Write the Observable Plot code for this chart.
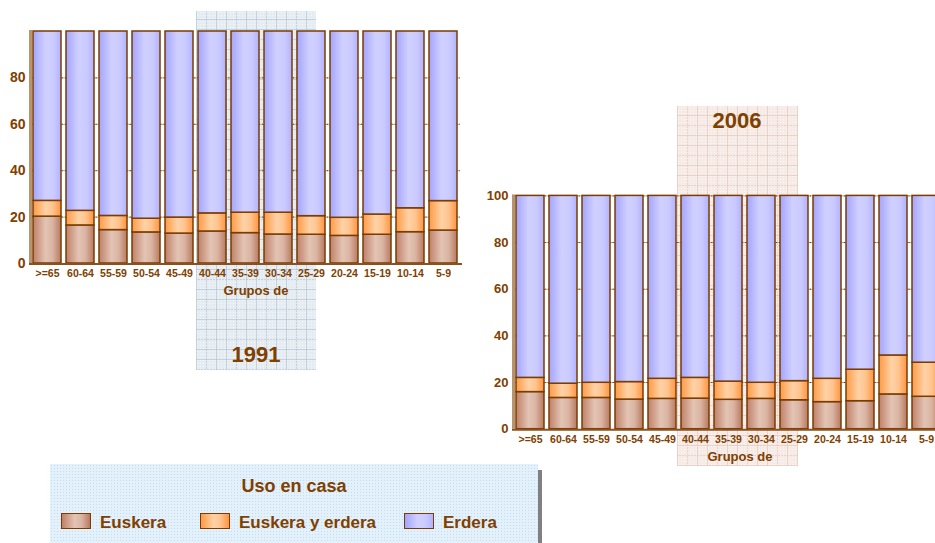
<!DOCTYPE html>
<html><head><meta charset="utf-8">
<script src="https://cdn.jsdelivr.net/npm/d3@7"></script>
<script src="https://cdn.jsdelivr.net/npm/@observablehq/plot@0.6"></script>
<style>
body{margin:0;background:#fff;font-family:"Liberation Sans",Arial,sans-serif;}
#wrap{position:relative;width:935px;height:543px;overflow:hidden;background:#fff;}
.abs{position:absolute;}
.lbl{position:absolute;transform:translate(-50%,-50%);font-weight:bold;color:#7f4000;white-space:nowrap;line-height:1;}
.shade-blue{background-color:#e6edf2;
 background-image:
  radial-gradient(rgba(255,255,255,.55) 0.7px, transparent 0.9px),
  repeating-linear-gradient(0deg, rgba(170,188,205,.55) 0 1px, transparent 1px 10px),
  repeating-linear-gradient(90deg, rgba(170,188,205,.55) 0 1px, transparent 1px 10px);
 background-size:3px 3px, auto, auto;}
.shade-pink{background-color:#f6ebe6;
 background-image:
  radial-gradient(rgba(255,255,255,.55) 0.7px, transparent 0.9px),
  repeating-linear-gradient(0deg, rgba(225,195,182,.6) 0 1px, transparent 1px 10px),
  repeating-linear-gradient(90deg, rgba(225,195,182,.6) 0 1px, transparent 1px 10px);
 background-size:3px 3px, auto, auto;}
.legend{background-color:#e2f1fb;
 background-image:radial-gradient(rgba(190,210,225,.7) 0.7px, transparent 0.9px);
 background-size:3px 3px;}
.sw{position:absolute;width:30px;height:16px;border:1px solid #7a3c00;box-sizing:border-box;}
.lt{position:absolute;font-weight:bold;color:#7f4000;font-size:17px;line-height:1;transform:translateY(-50%);white-space:nowrap;}
</style>
</head><body>
<div id="wrap">
  <svg width="0" height="0" style="position:absolute">
    <defs>
      <linearGradient id="gEusk" x1="0" x2="1" y1="0" y2="0">
        <stop offset="0" stop-color="#bf8068"/>
        <stop offset="0.45" stop-color="#e3c4b4"/>
        <stop offset="0.7" stop-color="#dab4a2"/>
        <stop offset="1" stop-color="#b87a60"/>
      </linearGradient>
      <linearGradient id="gMix" x1="0" x2="1" y1="0" y2="0">
        <stop offset="0" stop-color="#ff9a45"/>
        <stop offset="0.45" stop-color="#ffd2a6"/>
        <stop offset="0.7" stop-color="#ffc48e"/>
        <stop offset="1" stop-color="#ff9440"/>
      </linearGradient>
      <linearGradient id="gErd" x1="0" x2="1" y1="0" y2="0">
        <stop offset="0" stop-color="#a4a4fd"/>
        <stop offset="0.45" stop-color="#d0d0ff"/>
        <stop offset="0.75" stop-color="#cacaff"/>
        <stop offset="1" stop-color="#b2b2ff"/>
      </linearGradient>
    </defs>
  </svg>
  <div class="abs shade-blue" style="left:196px;top:11px;width:120px;height:359px;"></div>
  <div class="abs shade-pink" style="left:677px;top:106px;width:121px;height:360px;"></div>
  <div id="chart1991" class="abs" style="left:0;top:0;width:470px;height:280px;"></div>
  <div id="chart2006" class="abs" style="left:470px;top:180px;width:490px;height:280px;"></div>
  <div class="lbl" style="left:256px;top:290px;font-size:13px;">Grupos de</div>
  <div class="lbl" style="left:256px;top:355px;font-size:22px;">1991</div>
  <div class="lbl" style="left:740px;top:456px;font-size:13px;">Grupos de</div>
  <div class="lbl" style="left:737px;top:121px;font-size:22px;">2006</div>
  <div class="abs" style="left:538px;top:470px;width:4px;height:80px;background:#808080;"></div>
  <div id="legend" class="abs legend" style="left:50px;top:464px;width:488px;height:90px;"></div>
</div>
<script>
const groups = [">=65","60-64","55-59","50-54","45-49","40-44","35-39","30-34","25-29","20-24","15-19","10-14","5-9"];
const categories = ["Euskera","Euskera y erdera","Erdera"];

const euskera1991 = [20.2,16.4,14.4,13.4,12.9,13.8,13.1,12.5,12.4,11.9,12.4,13.5,14.2];
const mixto1991   = [6.8,6.3,6.1,5.9,6.9,7.8,8.8,9.4,8.0,7.8,8.7,10.3,12.7];
const erdera1991  = [73.0,77.3,79.5,80.7,80.2,78.4,78.1,78.1,79.6,80.3,78.9,76.2,73.1];

const euskera2006 = [15.9,13.4,13.4,12.7,13.0,13.1,12.6,13.0,12.4,11.6,12.0,14.9,13.9];
const mixto2006   = [6.1,6.1,6.5,7.5,8.6,8.9,7.8,6.9,8.2,10.0,13.5,16.7,14.6];
const erdera2006  = [78.0,80.5,80.1,79.8,78.4,78.0,79.6,80.1,79.4,78.4,74.5,68.4,71.5];

const ticks1991 = [0,20,40,60,80];
const ticks2006 = [0,20,40,60,80,100];

const fills = ["url(#gEusk)","url(#gMix)","url(#gErd)"];
const textColor = "#7f4000";
const strokeColor = "#7a3c00";

function rows(e, m, r) {
  return groups.flatMap((g, i) => [
    {group: g, cat: categories[0], value: e[i]},
    {group: g, cat: categories[1], value: m[i]},
    {group: g, cat: categories[2], value: r[i]}
  ]);
}

function axisLines(index, scales, values, dims) {
  const {width, height, marginLeft, marginRight, marginTop, marginBottom} = dims;
  const g = d3.create("svg:g");
  g.append("line").attr("x1", marginLeft - 0.5).attr("x2", marginLeft - 0.5)
    .attr("y1", marginTop - 1).attr("y2", height - marginBottom)
    .attr("stroke", "#b8946c").attr("stroke-width", 3);
  g.append("line").attr("x1", marginLeft - 2).attr("x2", width - marginRight + 2)
    .attr("y1", height - marginBottom + 1).attr("y2", height - marginBottom + 1)
    .attr("stroke", "#8a5020").attr("stroke-width", 2);
  return g.node();
}

function makeChart({data, ticks, gridTicks, width, height, marginLeft, marginRight, marginTop, marginBottom, yFont}) {
  return Plot.plot({
    width, height, marginLeft, marginRight, marginTop, marginBottom,
    style: {background: "none", fontFamily: "'Liberation Sans', Arial, sans-serif", overflow: "visible", maxWidth: "none"},
    x: {domain: groups, paddingInner: 0.15, paddingOuter: 0.075},
    y: {domain: [0, 100]},
    color: {domain: categories, range: fills},
    marks: [
      Plot.ruleY(gridTicks, {stroke: "#c8aa88", strokeWidth: 1}),
      Plot.ruleY(gridTicks, {stroke: strokeColor, strokeDasharray: "1.2,2.2", strokeWidth: 1}),
      Plot.barY(data, {x: "group", y: "value", fill: "cat", stroke: strokeColor, strokeWidth: 1.5}),
      axisLines,
      Plot.axisX({tickSize: 0, tickPadding: 6, fontSize: 10.5, fontWeight: "bold", fill: textColor, label: null}),
      Plot.axisY({ticks, tickSize: 0, tickPadding: 6, fontSize: yFont, fontWeight: "bold", fill: textColor, label: null})
    ]
  });
}

document.getElementById("chart1991").append(makeChart({
  data: rows(euskera1991, mixto1991, erdera1991),
  ticks: ticks1991, gridTicks: ticks1991.filter(t => t > 0),
  width: 470, height: 280, marginLeft: 31, marginRight: 10, marginTop: 31, marginBottom: 17, yFont: 14
}));

document.getElementById("chart2006").append(makeChart({
  data: rows(euskera2006, mixto2006, erdera2006),
  ticks: ticks2006, gridTicks: ticks2006.filter(t => t > 0),
  width: 490, height: 280, marginLeft: 44, marginRight: 17, marginTop: 15.4, marginBottom: 31.3, yFont: 13
}));

// legend
const legend = document.getElementById("legend");
const title = document.createElement("div");
title.className = "lbl";
title.style.cssText = "left:244px;top:22px;font-size:18px;";
title.textContent = "Uso en casa";
legend.append(title);
const swatchX = [11, 150, 354];
const swatchBg = [
  "linear-gradient(90deg,#bf8068,#e3c4b4 45%,#dab4a2 70%,#b87a60)",
  "linear-gradient(90deg,#ff9a45,#ffd2a6 45%,#ffc48e 70%,#ff9440)",
  "linear-gradient(90deg,#a4a4fd,#d0d0ff 45%,#cacaff 75%,#b2b2ff)"
];
categories.forEach((c, i) => {
  const sw = document.createElement("div");
  sw.className = "sw";
  sw.style.left = swatchX[i] + "px";
  sw.style.top = "49px";
  sw.style.background = swatchBg[i];
  legend.append(sw);
  const t = document.createElement("div");
  t.className = "lt";
  t.style.left = (swatchX[i] + 39) + "px";
  t.style.top = "58px";
  t.textContent = c;
  legend.append(t);
});
</script>
</body></html>
